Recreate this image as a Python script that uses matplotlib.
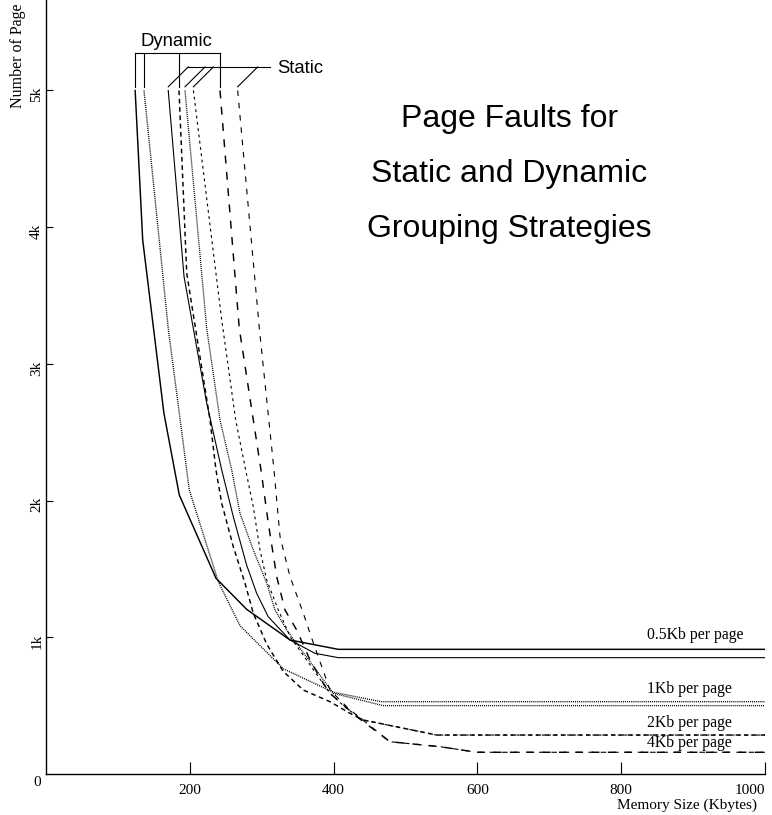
"""
Page faults vs memory size for static and dynamic grouping strategies.
"""

from __future__ import annotations

import matplotlib

matplotlib.use("Agg")
import matplotlib.pyplot as plt
import matplotlib.transforms as mtransforms

SERIF = "Liberation Serif"
SANS = "Liberation Sans"

# Memory size (Kbytes) / page faults.
dyn_05_x = [124, 134.5, 164, 185.4, 236.4, 279, 339.4, 406.5, 1000]
dyn_05_y = [5000, 3906, 2639, 2041, 1432, 1205, 980, 912, 912]
sta_05_x = [170, 192, 223.5, 244.4, 260.5, 279, 293, 309, 339.4, 374, 406.5, 1000]
sta_05_y = [5000, 3638, 2714, 2224, 1882, 1529, 1322, 1151, 980, 883, 851, 851]

dyn_1_x = [136.3, 170, 199.3, 239.6, 269.8, 330, 399.6, 466, 1000]
dyn_1_y = [5000, 3260, 2078, 1407, 1085, 770, 598, 529, 529]
sta_1_x = [193.3, 223.5, 242, 258.3, 269.8, 288.3, 307, 318.5, 334.8, 399.6, 469, 1000]
sta_1_y = [5000, 3260, 2590, 2224, 1907, 1639, 1395, 1200, 1053, 590, 500, 500]

dyn_2_x = [185, 195.7, 228.1, 236.4, 244.4, 260.5, 276.8, 288.3, 307, 330, 357.9, 395, 422.8, 441.3, 543.4, 1000]
dyn_2_y = [5000, 3665, 2590, 2224, 1980, 1663, 1395, 1176, 950, 750, 614, 529, 444, 395, 285, 285]
sta_2_x = [205, 244.4, 263.8, 277.7, 288.3, 297.6, 307, 323.1, 340, 362.5, 395, 418, 441.3, 543.4, 1000]
sta_2_y = [5000, 3321, 2590, 2224, 1955, 1639, 1419, 1200, 1000, 834, 590, 480, 395, 285, 285]

dyn_4_x = [242, 268.8, 299, 309.2, 320.9, 332.4, 348.7, 367.2, 385.7, 395, 432.1, 478.4, 548, 599, 1000]
dyn_4_y = [5000, 3260, 2224, 1834, 1443, 1200, 1053, 834, 663, 590, 420, 236, 200, 159, 159]
sta_4_x = [266.6, 296.7, 317.1, 325.5, 339.4, 357.9, 367.2, 395, 420.4, 478.4, 548, 599, 1000]
sta_4_y = [5000, 3260, 2224, 1736, 1443, 1176, 1029, 614, 480, 236, 200, 159, 159]

page_labels = ["0.5Kb per page", "1Kb per page", "2Kb per page", "4Kb per page"]
label_y = [1017, 622, 375, 229]

x_ticks = [200, 400, 600, 800, 1000]
y_ticks = [1000, 2000, 3000, 4000, 5000]
y_tick_labels = ["1k", "2k", "3k", "4k", "5k"]

# dash patterns in points (unscaled)
DOT = (0, (0.75, 0.75))
STYLES = {
    "0.5": {"dyn": "-", "sta": "-"},
    "1": {"dyn": DOT, "sta": DOT},
    "2": {"dyn": (0, (3.2, 2.5)), "sta": (0, (2.5, 3.2))},
    "4": {"dyn": (0, (5.4, 5.8)), "sta": (0, (5.0, 6.1))},
}


def draw_curves(ax) -> None:
    series = [
        ("0.5", dyn_05_x, dyn_05_y, sta_05_x, sta_05_y),
        ("1", dyn_1_x, dyn_1_y, sta_1_x, sta_1_y),
        ("2", dyn_2_x, dyn_2_y, sta_2_x, sta_2_y),
        ("4", dyn_4_x, dyn_4_y, sta_4_x, sta_4_y),
    ]
    for key, dx, dy, sx, sy in series:
        dyn_lw = 1.0 if key == "1" else 1.05
        sta_lw = 0.95 if key == "1" else 0.8
        ax.plot(dx, dy, color="black", linestyle=STYLES[key]["dyn"], linewidth=dyn_lw)
        ax.plot(sx, sy, color="black", linestyle=STYLES[key]["sta"], linewidth=sta_lw)


def draw_brackets(ax) -> None:
    lw = 0.8
    # Dynamic: comb of verticals above the start of each dynamic curve
    dyn_starts = [dyn_05_x[0], dyn_1_x[0], dyn_2_x[0], dyn_4_x[0]]
    top, bot = 5272, 5027
    ax.plot([min(dyn_starts), max(dyn_starts)], [top, top], color="black", lw=lw)
    for x in dyn_starts:
        ax.plot([x, x], [bot, top], color="black", lw=lw)
    ax.text(180.9, 5357, "Dynamic", family=SANS, fontsize=13.3, ha="center", va="center")

    # Static: slanted leaders into a horizontal rule
    sta_starts = [sta_05_x[0], sta_1_x[0], sta_2_x[0], sta_4_x[0]]
    level, dx = 5172, 27.8
    for x in sta_starts:
        ax.plot([x, x + dx], [bot, level], color="black", lw=lw)
    ax.plot([sta_starts[0] + dx, 311.5], [level, level], color="black", lw=lw)
    ax.text(321.3, 5164, "Static", family=SANS, fontsize=13.3, ha="left", va="center")


def main() -> None:
    fig = plt.figure(figsize=(7.72, 8.15), dpi=100)
    ax = fig.add_axes([46 / 772, 41 / 815, 719 / 772, 774 / 815])
    ax.set_xlim(0, 1000)
    ax.set_ylim(0, 5662)
    for side in ("top", "right"):
        ax.spines[side].set_visible(False)
    for side in ("left", "bottom"):
        ax.spines[side].set_linewidth(1.0)

    draw_curves(ax)
    draw_brackets(ax)

    ax.set_xticks(x_ticks)
    ax.set_xticklabels([str(t) for t in x_ticks], family=SERIF, fontsize=11)
    ax.set_yticks(y_ticks)
    ax.set_yticklabels(y_tick_labels, family=SERIF, fontsize=11, rotation=90, va="center")
    ax.tick_params(axis="x", direction="in", length=8.6, width=0.8, pad=7)
    ax.tick_params(axis="y", direction="in", length=5, width=0.8, pad=2)
    ax.get_xticklabels()[-1].set_ha("right")
    shift = mtransforms.ScaledTranslation(0, -0.04, fig.dpi_scale_trans)
    for lab in ax.get_yticklabels():
        lab.set_transform(lab.get_transform() + shift)

    ax.annotate("0", xy=(0, 0), xytext=(-6.5, -5.8), textcoords="offset points",
                ha="center", va="center", family=SERIF, fontsize=11)

    for text, y in zip(page_labels, label_y):
        ax.text(835.5, y, text, family=SERIF, fontsize=11.3, ha="left", va="center")

    title_lines = ["Page Faults for", "Static and Dynamic", "Grouping Strategies"]
    for i, line in enumerate(title_lines):
        fig.text(509.5 / 772, 1 - (119 + 55 * i) / 815, line, family=SANS,
                 fontsize=23, ha="center", va="center")

    fig.text(757 / 772, 1 - 805 / 815, "Memory Size (Kbytes)", family=SERIF,
             fontsize=11, ha="right", va="center")
    # the original label runs off the top edge; only this part is visible
    fig.text(18 / 772, 1 - 108 / 815, "Number of Page", family=SERIF,
             fontsize=11.5, rotation=90, ha="center", va="bottom")

    fig.savefig("out.png", dpi=100)
    plt.close(fig)


if __name__ == "__main__":
    main()
